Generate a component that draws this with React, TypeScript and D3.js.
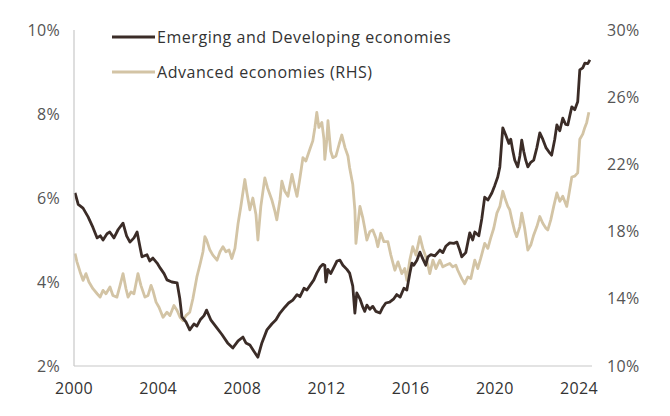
import React from "react";
import * as d3 from "d3";

const emDates = [2000.05,2000.2,2000.43,2000.67,2000.9,2001.1,2001.25,2001.38,2001.57,2001.7,2001.9,2002.1,2002.33,2002.5,2002.66,2002.85,2003.0,2003.13,2003.23,2003.47,2003.6,2003.75,2003.95,2004.1,2004.28,2004.42,2004.65,2004.9,2005.03,2005.13,2005.32,2005.5,2005.7,2005.84,2006.0,2006.18,2006.3,2006.5,2006.8,2007.03,2007.3,2007.55,2007.8,2008.03,2008.17,2008.36,2008.55,2008.74,2008.93,2009.17,2009.4,2009.6,2009.79,2010.02,2010.2,2010.4,2010.6,2010.74,2010.93,2011.07,2011.26,2011.4,2011.54,2011.69,2011.83,2011.92,2011.97,2012.07,2012.2,2012.35,2012.5,2012.64,2012.78,2012.97,2013.1,2013.25,2013.35,2013.44,2013.59,2013.73,2013.82,2013.92,2014.06,2014.2,2014.35,2014.54,2014.68,2014.82,2015.0,2015.2,2015.34,2015.5,2015.68,2015.82,2015.96,2016.06,2016.15,2016.3,2016.44,2016.58,2016.72,2016.82,2016.96,2017.15,2017.39,2017.53,2017.67,2017.86,2018.05,2018.2,2018.34,2018.43,2018.62,2018.81,2018.95,2019.05,2019.24,2019.38,2019.52,2019.67,2019.86,2020.0,2020.14,2020.24,2020.38,2020.52,2020.67,2020.76,2020.85,2020.95,2021.09,2021.19,2021.28,2021.38,2021.47,2021.57,2021.71,2021.85,2022.0,2022.14,2022.28,2022.43,2022.57,2022.7,2022.85,2022.95,2023.09,2023.23,2023.37,2023.47,2023.56,2023.66,2023.8,2023.94,2024.04,2024.18,2024.28,2024.42,2024.52];
const emValues = [6.12,5.85,5.76,5.55,5.3,5.05,5.1,5.0,5.15,5.19,5.05,5.25,5.4,5.1,4.95,5.05,5.19,4.85,4.6,4.65,4.5,4.57,4.45,4.33,4.2,4.05,4.0,3.98,3.6,3.17,3.05,2.86,3.0,2.95,3.1,3.2,3.33,3.1,2.9,2.75,2.55,2.43,2.6,2.69,2.55,2.5,2.35,2.21,2.55,2.86,3.0,3.1,3.26,3.4,3.5,3.57,3.7,3.65,3.85,3.81,3.95,4.05,4.21,4.35,4.42,4.4,4.0,4.3,4.2,4.35,4.5,4.52,4.4,4.3,4.21,3.9,3.26,3.74,3.6,3.4,3.3,3.45,3.35,3.42,3.3,3.26,3.4,3.5,3.52,3.6,3.7,3.64,3.85,3.81,4.2,4.45,4.4,4.52,4.71,4.55,4.4,4.6,4.65,4.62,4.76,4.7,4.85,4.93,4.92,4.95,4.75,4.6,4.7,5.17,5.0,5.19,5.1,5.5,6.02,5.95,6.12,6.3,6.5,6.74,7.67,7.5,7.3,7.4,7.14,6.9,6.74,7.0,7.38,7.1,6.9,6.74,6.85,6.9,7.2,7.55,7.4,7.2,7.1,7.02,7.4,7.74,7.6,7.9,7.75,7.74,7.95,8.17,8.1,8.29,9.05,9.1,9.21,9.2,9.29];

const aeDates = [2000.05,2000.14,2000.29,2000.43,2000.57,2000.71,2000.9,2001.1,2001.24,2001.38,2001.52,2001.71,2001.85,2002.04,2002.19,2002.33,2002.47,2002.57,2002.71,2002.85,2003.04,2003.18,2003.37,2003.52,2003.66,2003.75,2003.9,2004.04,2004.23,2004.42,2004.56,2004.75,2004.9,2005.04,2005.18,2005.32,2005.5,2005.65,2005.84,2006.0,2006.13,2006.22,2006.3,2006.46,2006.6,2006.8,2006.94,2007.08,2007.22,2007.37,2007.5,2007.65,2007.8,2007.93,2008.12,2008.22,2008.36,2008.5,2008.65,2008.74,2008.88,2009.07,2009.2,2009.4,2009.55,2009.64,2009.79,2009.88,2010.02,2010.17,2010.36,2010.5,2010.6,2010.74,2010.88,2011.02,2011.21,2011.35,2011.45,2011.54,2011.64,2011.78,2011.88,2011.92,2012.02,2012.07,2012.2,2012.3,2012.45,2012.6,2012.73,2012.88,2013.02,2013.1,2013.25,2013.35,2013.4,2013.5,2013.59,2013.73,2013.82,2013.92,2014.06,2014.2,2014.35,2014.44,2014.58,2014.73,2014.92,2015.06,2015.25,2015.4,2015.58,2015.72,2015.82,2015.96,2016.1,2016.25,2016.44,2016.58,2016.72,2016.82,2016.91,2017.06,2017.2,2017.39,2017.53,2017.67,2017.86,2018.0,2018.15,2018.24,2018.43,2018.57,2018.72,2018.86,2019.05,2019.19,2019.33,2019.52,2019.67,2019.8,2019.95,2020.1,2020.24,2020.38,2020.48,2020.62,2020.71,2020.85,2020.95,2021.04,2021.19,2021.28,2021.42,2021.57,2021.71,2021.85,2022.0,2022.14,2022.28,2022.43,2022.52,2022.66,2022.8,2022.95,2023.09,2023.23,2023.42,2023.52,2023.66,2023.8,2023.94,2024.04,2024.18,2024.28,2024.37,2024.47];
const aeValues = [16.7,16.2,15.6,15.1,15.5,15.0,14.6,14.3,14.1,14.5,14.3,14.7,14.2,14.1,14.8,15.5,14.6,14.1,14.4,14.3,15.5,14.8,14.1,14.2,14.8,14.5,13.8,13.5,12.9,13.2,13.0,13.6,13.3,12.9,12.7,13.0,13.2,14.0,15.3,16.1,16.8,17.7,17.5,16.9,16.6,16.3,16.8,17.1,16.8,16.9,16.4,17.0,18.5,19.5,21.1,20.3,19.3,20.0,19.0,17.5,19.5,21.2,20.6,19.9,19.2,18.7,19.9,21.0,20.4,20.1,21.4,20.6,20.1,21.2,22.4,22.2,22.9,23.4,24.2,25.1,24.2,24.5,23.5,22.3,23.5,24.6,22.8,22.4,22.5,23.2,23.75,23.0,22.5,21.8,20.8,19.3,17.3,18.5,19.5,18.8,18.2,17.5,18.0,18.1,17.6,17.1,17.9,17.4,17.4,16.6,15.7,16.2,15.5,15.8,15.1,16.3,17.1,16.6,17.7,17.0,16.5,16.0,15.5,16.3,15.8,16.3,15.9,16.0,16.1,15.9,16.0,15.7,15.2,14.9,15.3,15.2,16.3,15.8,16.4,17.3,17.0,17.6,18.2,19.1,19.5,20.4,20.0,19.5,19.3,18.5,18.0,17.7,18.3,19.1,18.2,16.9,17.2,17.8,18.3,18.9,18.5,18.2,18.1,18.7,19.5,20.3,19.8,20.1,19.5,20.2,21.25,21.3,21.5,23.5,23.8,24.2,24.5,25.1];

const xTicks = [2000, 2004, 2008, 2012, 2016, 2020, 2024];
const leftTicks = [2, 4, 6, 8, 10];
const rightTicks = [10, 14, 18, 22, 26, 30];
const seriesNames = ["Emerging and Developing economies", "Advanced economies (RHS)"];

const DARK = "#3b2c27";
const LIGHT = "#d3c4a5";
const FONT = "'Open Sans', sans-serif";
const TEXT = "#555";

export default function App() {
  const W = 670, H = 416;
  const left = 74, right = 592, top = 30, bottom = 366;
  const x = d3.scaleLinear().domain([2000, 2024.62]).range([left, right]);
  const yL = d3.scaleLinear().domain([2, 10]).range([bottom, top]);
  const yR = d3.scaleLinear().domain([10, 30]).range([bottom, top]);

  const lineL = d3.line<number>().x((_, i) => x(emDates[i])).y((d) => yL(d));
  const lineR = d3.line<number>().x((_, i) => x(aeDates[i])).y((d) => yR(d));

  return (
    <svg width={W} height={H} style={{ position: "absolute", left: 0, top: 0, background: "#fff" }} fontFamily={FONT}>
      <rect width={W} height={H} fill="#fff" />
      <path d={lineR(aeValues) || ""} fill="none" stroke={LIGHT} strokeWidth={2.8} strokeLinejoin="round" />
      <path d={lineL(emValues) || ""} fill="none" stroke={DARK} strokeWidth={2.8} strokeLinejoin="round" />
      <line x1={left} x2={left} y1={top} y2={bottom} stroke="#c8c8c8" strokeWidth={1.2} />
      <line x1={left} x2={right} y1={bottom} y2={bottom} stroke="#c8c8c8" strokeWidth={1.2} />
      {leftTicks.map((t) => (
        <text key={"l" + t} x={60} y={yL(t)} dy="0.35em" textAnchor="end" fontSize={16} letterSpacing={0.3} fill={TEXT}>{t}%</text>
      ))}
      {rightTicks.map((t) => (
        <text key={"r" + t} x={607} y={yR(t)} dy="0.35em" textAnchor="start" fontSize={16} letterSpacing={0.3} fill={TEXT}>{t}%</text>
      ))}
      {xTicks.map((t) => (
        <text key={"x" + t} x={x(t)} y={388} dy="0.35em" textAnchor="middle" fontSize={16} letterSpacing={0.3} fill="#333">{t}</text>
      ))}
      {seriesNames.map((n, i) => (
        <g key={n}>
          <line x1={112} x2={155} y1={37 + i * 35} y2={37 + i * 35} stroke={i === 0 ? DARK : LIGHT} strokeWidth={2.8} />
          <text x={157} y={37 + i * 35} dy="0.35em" fontSize={16} letterSpacing={0.55} fill="#333">{n}</text>
        </g>
      ))}
    </svg>
  );
}
